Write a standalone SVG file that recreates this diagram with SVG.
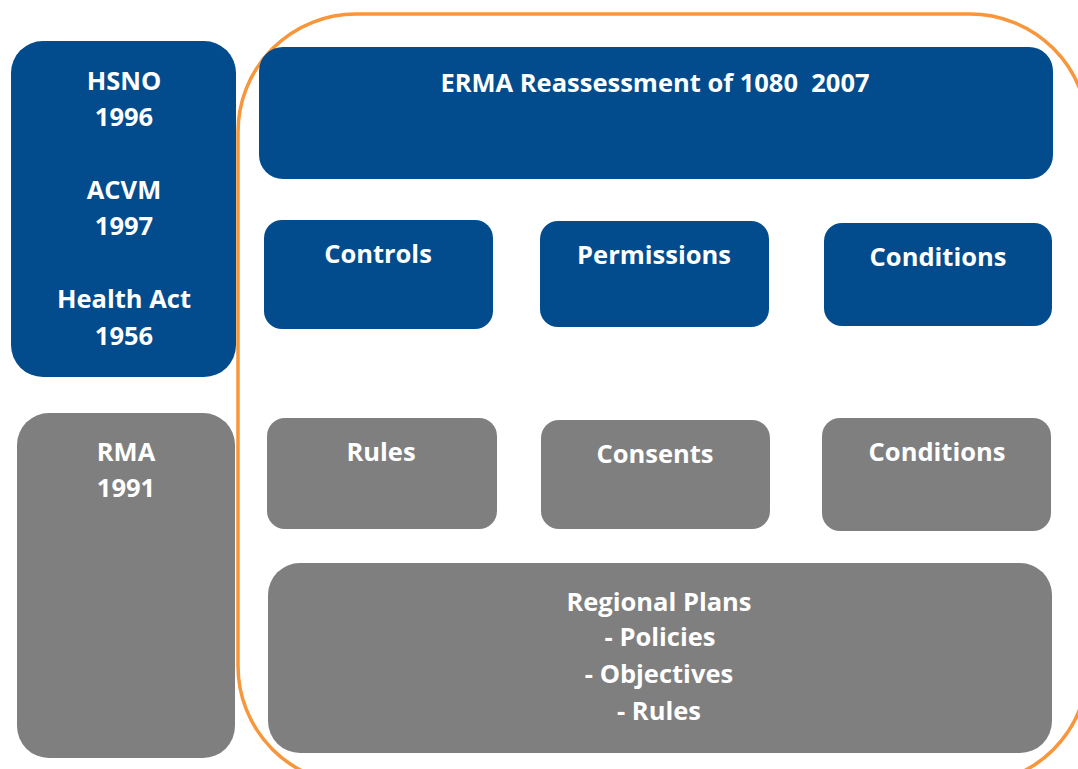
<svg xmlns="http://www.w3.org/2000/svg" width="1078" height="769" viewBox="0 0 1078 769">
<style>
.blue{fill:#024C8D}
.gray{fill:#7F7F7F}
text{font-family:"Open Sans","Liberation Sans",sans-serif;font-weight:bold;font-size:25.5px;fill:#FFFFFF;text-anchor:middle;white-space:pre}
</style>
<rect x="0" y="0" width="1078" height="769" fill="#FFFFFF"/>
<g id="frame">
<rect x="238" y="14" width="850" height="770" rx="118" ry="118" fill="none" stroke="#F7963B" stroke-width="3.5"/>
</g>
<g id="hsno">
<rect class="blue" x="11" y="41" width="225" height="336" rx="32"/>
<text x="124" y="90">HSNO</text>
<text x="124" y="126">1996</text>
<text x="124" y="199">ACVM</text>
<text x="124" y="235">1997</text>
<text x="124" y="308">Health Act</text>
<text x="124" y="345">1956</text>
</g>
<g id="rma">
<rect class="gray" x="17" y="413" width="218" height="345" rx="32"/>
<text x="126" y="461">RMA</text>
<text x="126" y="497">1991</text>
</g>
<g id="erma">
<rect class="blue" x="259" y="47" width="794" height="132" rx="24"/>
<text x="655" y="92" xml:space="preserve">ERMA Reassessment of 1080  2007</text>
</g>
<g id="controls">
<rect class="blue" x="264" y="220" width="229" height="109" rx="18"/>
<text x="378" y="263">Controls</text>
</g>
<g id="permissions">
<rect class="blue" x="540" y="221" width="229" height="106" rx="18"/>
<text x="654" y="264">Permissions</text>
</g>
<g id="conditions1">
<rect class="blue" x="824" y="223" width="228" height="103" rx="18"/>
<text x="938" y="266">Conditions</text>
</g>
<g id="rules">
<rect class="gray" x="267" y="418" width="230" height="111" rx="18"/>
<text x="381" y="461">Rules</text>
</g>
<g id="consents">
<rect class="gray" x="541" y="420" width="229" height="109" rx="18"/>
<text x="655" y="463">Consents</text>
</g>
<g id="conditions2">
<rect class="gray" x="822" y="418" width="229" height="113" rx="18"/>
<text x="937" y="461">Conditions</text>
</g>
<g id="regional">
<rect class="gray" x="268" y="563" width="784" height="190" rx="32"/>
<text x="659" y="611">Regional Plans</text>
<text x="660" y="646">- Policies</text>
<text x="659" y="683">- Objectives</text>
<text x="659" y="720">- Rules</text>
</g>
<g id="connectors"></g>
</svg>
